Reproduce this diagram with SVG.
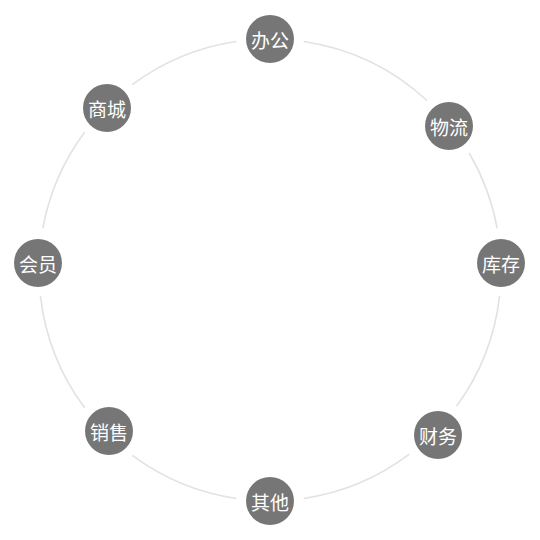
<svg xmlns="http://www.w3.org/2000/svg" width="540" height="540" viewBox="0 0 540 540">
<style>
.edge{fill:none;stroke:#e2e2e2;stroke-width:1.6}
.node circle{fill:#767676}
.node text{fill:#ffffff;font-family:"Noto Sans CJK SC","Liberation Sans",sans-serif;font-size:19px;text-anchor:middle;dominant-baseline:central}
</style>
<rect width="540" height="540" fill="#ffffff"/>
<g id="connectors">
<path class="edge" d="M303.7,41.5 A231,231 0 0 1 426.9,100.5"/>
<path class="edge" d="M469.2,153.1 A231,231 0 0 1 497.2,228.3"/>
<path class="edge" d="M499.6,295.8 A231,231 0 0 1 456.6,406.1"/>
<path class="edge" d="M409.3,454.2 A231,231 0 0 1 303.7,498.5"/>
<path class="edge" d="M236.3,498.5 A231,231 0 0 1 132.3,455.4"/>
<path class="edge" d="M84.6,407.7 A231,231 0 0 1 40.4,295.8"/>
<path class="edge" d="M42.8,228.3 A231,231 0 0 1 84.6,132.3"/>
<path class="edge" d="M132.3,84.6 A231,231 0 0 1 236.3,41.5"/>
</g>
<g id="node-bangong" class="node"><circle cx="270" cy="39" r="24"/><text x="270" y="39">办公</text></g>
<g id="node-wuliu" class="node"><circle cx="449" cy="126" r="24"/><text x="449" y="126">物流</text></g>
<g id="node-kucun" class="node"><circle cx="501" cy="263" r="24"/><text x="501" y="263">库存</text></g>
<g id="node-caiwu" class="node"><circle cx="438" cy="435" r="24"/><text x="438" y="435">财务</text></g>
<g id="node-qita" class="node"><circle cx="270" cy="501" r="24"/><text x="270" y="501">其他</text></g>
<g id="node-xiaoshou" class="node"><circle cx="109" cy="431" r="24"/><text x="109" y="431">销售</text></g>
<g id="node-huiyuan" class="node"><circle cx="38" cy="263" r="24"/><text x="38" y="263">会员</text></g>
<g id="node-shangcheng" class="node"><circle cx="107" cy="108" r="24"/><text x="107" y="108">商城</text></g>
</svg>
